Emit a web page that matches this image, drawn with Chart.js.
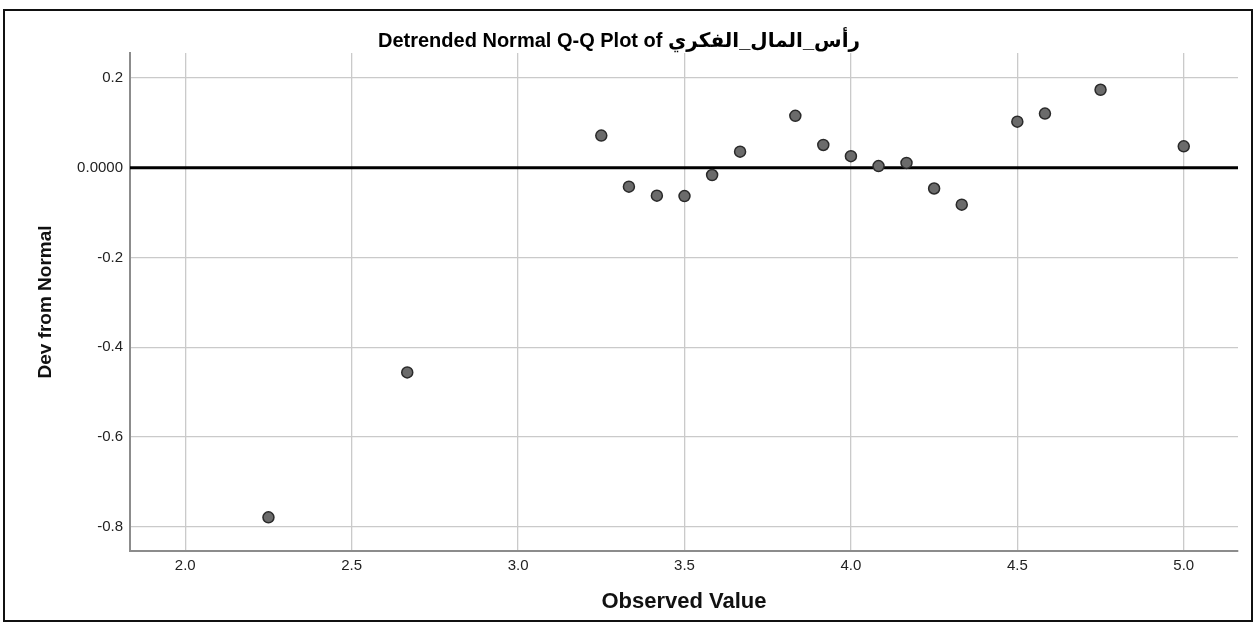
<!DOCTYPE html>
<html>
<head>
<meta charset="utf-8">
<script src="https://cdn.jsdelivr.net/npm/chart.js@4"></script>
<style>
  html, body { margin: 0; padding: 0; background: #fff; }
  #wrap { position: relative; width: 1253px; height: 623px; overflow: hidden; }
  #frame {
    position: absolute; left: 3px; top: 9px; right: 0px; bottom: 1px;
    border: 2px solid #111; pointer-events: none;
  }
</style>
</head>
<body>
<div id="wrap">
  <canvas id="qq" width="1253" height="623"></canvas>
  <div id="frame"></div>
</div>
<script>
// values
const observedValues = [2.25, 2.667, 3.25, 3.333, 3.417, 3.5, 3.583, 3.667, 3.833, 3.917,
  4.0, 4.083, 4.167, 4.25, 4.333, 4.5, 4.583, 4.75, 5.0];
const devFromNormal = [-0.779, -0.456, 0.072, -0.042, -0.062, -0.063, -0.016, 0.036, 0.116, 0.051,
  0.026, 0.004, 0.011, -0.046, -0.082, 0.103, 0.121, 0.174, 0.048];

const xTicks = [2.0, 2.5, 3.0, 3.5, 4.0, 4.5, 5.0];
const xTickLabels = ['2.0', '2.5', '3.0', '3.5', '4.0', '4.5', '5.0'];
const yTicks = [-0.8, -0.6, -0.4, -0.2, 0, 0.2];
const yTickLabels = ['-0.8', '-0.6', '-0.4', '-0.2', '0.0000', '0.2'];

const xRange = [1.834, 5.163];
const yRange = [-0.854, 0.256];

const titleText = 'Detrended Normal Q-Q Plot of رأس_المال_الفكري';
const fontFamily = "'Liberation Sans', Arial, 'DejaVu Sans', sans-serif";

function labelFor(ticks, labels) {
  return value => {
    const i = ticks.findIndex(t => Math.abs(t - value) < 1e-9);
    return i >= 0 ? labels[i] : '';
  };
}

const points = observedValues.map((x, i) => ({ x, y: devFromNormal[i] }));

new Chart(document.getElementById('qq').getContext('2d'), {
  type: 'scatter',
  data: {
    datasets: [
      {
        // reference line at zero
        type: 'line',
        data: [{ x: xRange[0], y: 0 }, { x: xRange[1], y: 0 }],
        borderColor: '#000',
        borderWidth: 3,
        pointRadius: 0,
        fill: false,
        order: 2
      },
      {
        data: points,
        backgroundColor: '#6b6b6b',
        borderColor: '#2a2a2a',
        borderWidth: 1.5,
        pointRadius: 5.5,
        order: 1
      }
    ]
  },
  options: {
    responsive: false,
    animation: false,
    layout: { padding: { left: 0, right: 15, top: 0, bottom: 0 } },
    plugins: {
      legend: { display: false },
      tooltip: { enabled: false },
      title: {
        display: true,
        text: titleText,
        color: '#000',
        font: { family: fontFamily, size: 20, weight: 'bold' },
        padding: { top: 29, bottom: 0 }
      }
    },
    scales: {
      x: {
        type: 'linear',
        min: xRange[0],
        max: xRange[1],
        afterBuildTicks: axis => { axis.ticks = xTicks.map(v => ({ value: v })); },
        afterFit: axis => { axis.height = 72; },
        grid: { color: '#cacaca', lineWidth: 1.3, drawTicks: false },
        border: { color: '#8c8c8c', width: 2 },
        ticks: {
          callback: labelFor(xTicks, xTickLabels),
          color: '#222',
          padding: 6,
          maxRotation: 0,
          font: { family: fontFamily, size: 15 }
        },
        title: {
          display: true,
          text: 'Observed Value',
          color: '#111',
          font: { family: fontFamily, size: 22, weight: 'bold' },
          padding: { top: 0, bottom: 8 }
        }
      },
      y: {
        type: 'linear',
        min: yRange[0],
        max: yRange[1],
        afterBuildTicks: axis => { axis.ticks = yTicks.map(v => ({ value: v })); },
        afterFit: axis => { axis.width = 130; },
        grid: { color: '#cacaca', lineWidth: 1.3, drawTicks: false },
        border: { color: '#8c8c8c', width: 2 },
        ticks: {
          callback: labelFor(yTicks, yTickLabels),
          color: '#222',
          padding: 7,
          font: { family: fontFamily, size: 15 }
        },
        title: {
          display: true,
          text: 'Dev from Normal',
          color: '#111',
          font: { family: fontFamily, size: 19, weight: 'bold' },
          padding: { top: 34, bottom: 0 }
        }
      }
    }
  }
});
</script>
</body>
</html>
